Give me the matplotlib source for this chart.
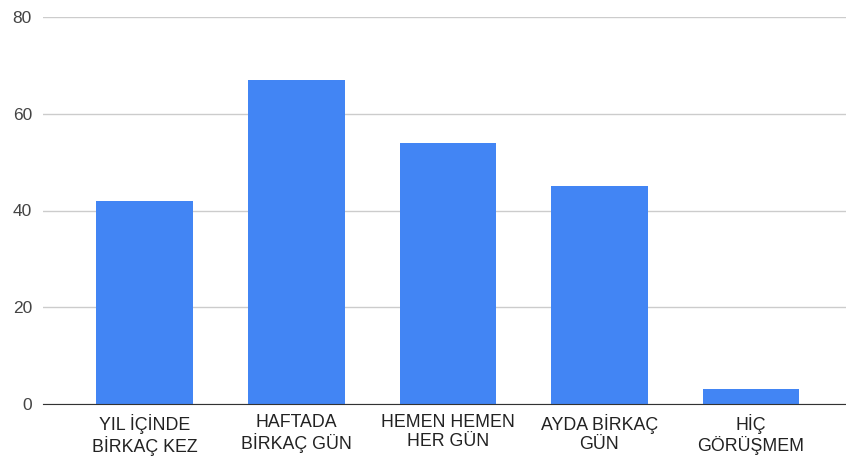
import matplotlib.pyplot as plt
import numpy as np

plt.rcParams['font.family'] = ['Liberation Sans', 'DejaVu Sans']

categories = ["YIL İÇİNDE\nBİRKAÇ KEZ", "HAFTADA\nBİRKAÇ GÜN", "HEMEN HEMEN\nHER GÜN",
              "AYDA BİRKAÇ\nGÜN", "HİÇ\nGÖRÜŞMEM"]
values = [42, 67, 54, 45, 3]
yticks = [0, 20, 40, 60, 80]

fig = plt.figure(figsize=(8.46, 4.59), dpi=100)
ax = fig.add_axes([43 / 846, 1 - 404 / 459, 1 - 43 / 846, 387 / 459])

x = np.arange(len(categories))
ax.bar(x, values, width=0.64, color='#4285f4', zorder=3)

ax.set_xlim(-0.673, 4.627)
ax.set_ylim(0, 80)
ax.set_yticks(yticks)
ax.set_xticks(x)
ax.set_xticklabels(categories, fontsize=12.8, color='#222222', linespacing=1.15)
ax.tick_params(axis='y', length=0, pad=8, labelsize=12.5, labelcolor='#444444')
ax.tick_params(axis='x', length=0, pad=7)
ax.grid(axis='y', color='#cccccc', linewidth=1, zorder=0)

for s in ['top', 'right', 'left']:
    ax.spines[s].set_visible(False)
ax.spines['bottom'].set_color('#333333')
ax.spines['bottom'].set_zorder(4)

fig.savefig('out.png', dpi=100)
